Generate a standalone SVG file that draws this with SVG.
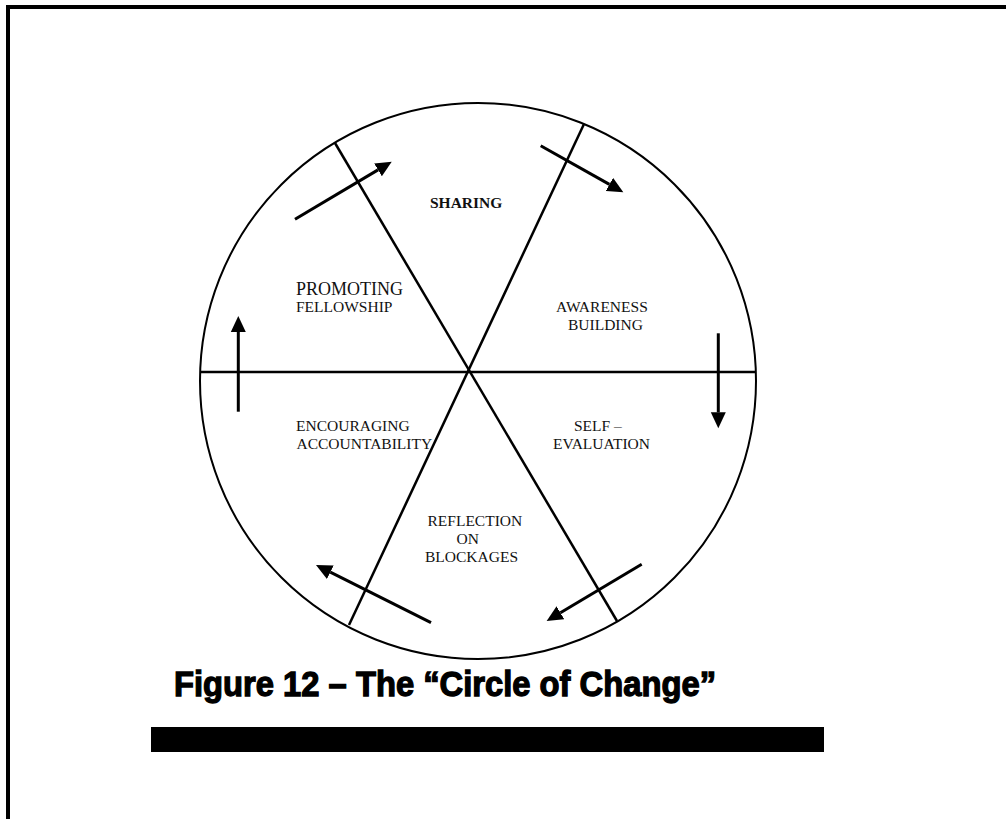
<svg xmlns="http://www.w3.org/2000/svg" width="1006" height="819" viewBox="0 0 1006 819">
<style>
.lbl{font-family:"Liberation Serif","Times New Roman",serif;font-size:15.5px;fill:#111}
.spoke{stroke:#000;stroke-width:2.5;fill:none}
.arr{stroke:#000;stroke-width:3;fill:none;marker-end:url(#ah)}
.title{font-family:"Liberation Sans",Arial,sans-serif;font-weight:bold;font-size:34.5px;fill:#000;stroke:#000;stroke-width:1.3}
</style>
<defs>
<marker id="ah" markerUnits="userSpaceOnUse" viewBox="0 -8 17 16" markerWidth="17" markerHeight="16" refX="0" refY="0" orient="auto">
<path d="M0,-7.5 L16,0 L0,7.5 z" fill="#000"/>
</marker>
</defs>
<rect width="1006" height="819" fill="#fff"/>
<g id="border">
<line x1="6" y1="7" x2="1006" y2="7" stroke="#000" stroke-width="4"/>
<line x1="8" y1="5" x2="8" y2="819" stroke="#000" stroke-width="4"/>
</g>
<g id="circle">
<circle cx="478" cy="381" r="278" fill="none" stroke="#000" stroke-width="2"/>
</g>
<g id="spokes">
<line class="spoke" x1="200" y1="372" x2="756" y2="372"/>
<line class="spoke" x1="335" y1="143" x2="617" y2="621"/>
<line class="spoke" x1="584" y1="124" x2="349" y2="625"/>
</g>
<g id="connectors">
<line class="arr" x1="295" y1="219.3" x2="378" y2="169.9"/>
<line class="arr" x1="540.7" y1="145.7" x2="609.4" y2="184.4"/>
<line class="arr" x1="718.3" y1="333.3" x2="718.3" y2="412.3"/>
<line class="arr" x1="641.7" y1="564.3" x2="560.4" y2="612.8"/>
<line class="arr" x1="431" y1="622.7" x2="330.3" y2="572.2"/>
<line class="arr" x1="238.3" y1="411.7" x2="238.3" y2="332"/>
</g>
<g id="sharing">
<text class="lbl" x="430" y="208" font-weight="bold">SHARING</text>
</g>
<g id="awareness">
<text class="lbl" x="556" y="311.5">AWARENESS</text>
<text class="lbl" x="568" y="329.5">BUILDING</text>
</g>
<g id="self-evaluation">
<text class="lbl" x="574" y="431">SELF –</text>
<text class="lbl" x="553" y="449">EVALUATION</text>
</g>
<g id="reflection">
<text class="lbl" x="427.5" y="525.5">REFLECTION</text>
<text class="lbl" x="456.5" y="544">ON</text>
<text class="lbl" x="425" y="562">BLOCKAGES</text>
</g>
<g id="encouraging">
<text class="lbl" x="296" y="431">ENCOURAGING</text>
<text class="lbl" x="296.5" y="449">ACCOUNTABILITY</text>
</g>
<g id="promoting">
<text class="lbl" x="296" y="294.5" style="font-size:18px">PROMOTING</text>
<text class="lbl" x="296" y="311.5">FELLOWSHIP</text>
</g>
<g id="caption">
<text class="title" x="174" y="696" textLength="542" lengthAdjust="spacingAndGlyphs">Figure 12 – The “Circle of Change”</text>
<rect x="151" y="727" width="673" height="25" fill="#000"/>
</g>
</svg>
